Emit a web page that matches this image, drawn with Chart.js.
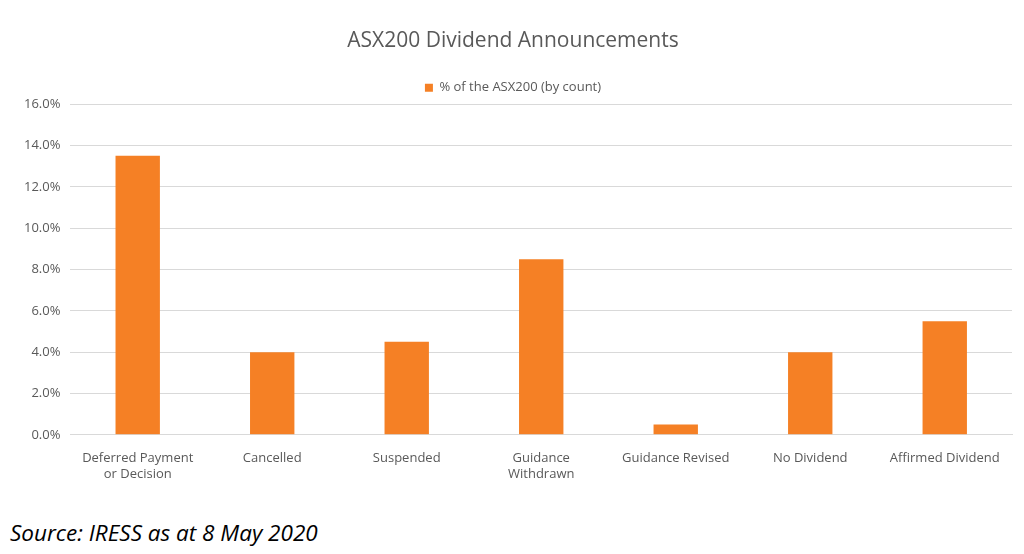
<!DOCTYPE html>
<html><head><meta charset="utf-8">
<script src="https://cdn.jsdelivr.net/npm/chart.js@4/dist/chart.umd.min.js"></script>
<style>
html,body{margin:0;padding:0;background:#fff;}
#wrap{position:relative;width:1024px;height:554px;}
#c{position:absolute;left:0;top:0;}
#src{position:absolute;left:10px;top:517px;font-family:"Open Sans",sans-serif;font-style:italic;font-size:22.5px;color:#000;}
</style></head><body>
<div id="wrap"><canvas id="c" width="1024" height="510"></canvas>
<div id="src">Source: IRESS as at 8 May 2020</div></div>
<script>
const categories=[["Deferred Payment","or Decision"],"Cancelled","Suspended",["Guidance","Withdrawn"],"Guidance Revised","No Dividend","Affirmed Dividend"];
const values=[13.5,4.0,4.5,8.5,0.5,4.0,5.5];
const seriesName="% of the ASX200 (by count)";
const c=document.getElementById('c');
c.style.width='1024px';c.style.height='510px';
const legendGap={id:'legendGap',beforeInit(ch){const f=ch.legend.fit;ch.legend.fit=function(){f.bind(ch.legend)();this.height+=22;};}};
new Chart(c,{type:'bar',
data:{labels:categories,datasets:[{label:seriesName,data:values,backgroundColor:'#F58025',categoryPercentage:1,barPercentage:0.33}]},
options:{responsive:false,animation:false,devicePixelRatio:1,
layout:{padding:{left:14,right:12,top:10,bottom:20}},
plugins:{title:{display:true,text:'ASX200 Dividend Announcements',color:'#595959',font:{family:'Open Sans',size:21,weight:'normal'},padding:{top:18,bottom:14}},
legend:{labels:{boxWidth:8,boxHeight:8,color:'#595959',font:{family:'Open Sans',size:13},padding:14}},tooltip:{enabled:false}},
scales:{y:{min:0,max:16,ticks:{stepSize:2,color:'#595959',font:{family:'Open Sans',size:13},padding:10,callback:v=>v.toFixed(1)+'%'},grid:{color:'#D9D9D9',drawTicks:false},border:{display:false}},
x:{ticks:{color:'#595959',font:{family:'Open Sans',size:13},maxRotation:0,autoSkip:false,padding:8},grid:{display:false},border:{color:'#D9D9D9'}}}}},
);
</script></body></html>
